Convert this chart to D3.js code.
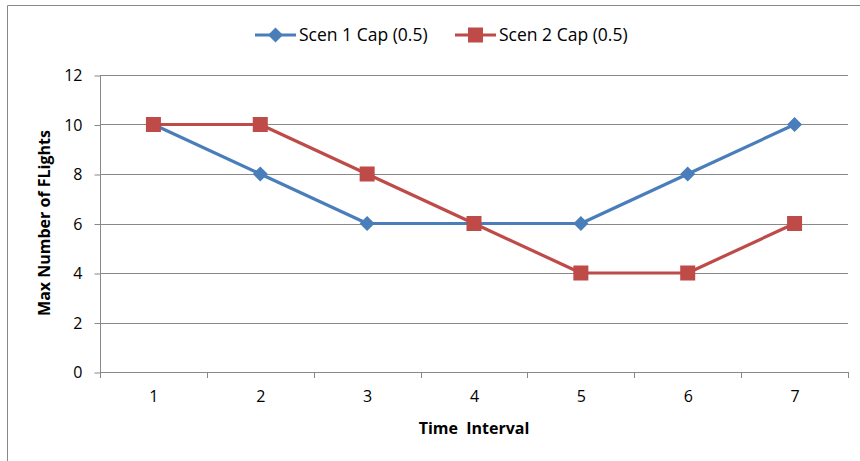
<!DOCTYPE html>
<html><head><meta charset="utf-8">
<script src="https://cdn.jsdelivr.net/npm/d3@7"></script>
<style>body{margin:0;background:#fff}svg{display:block}text{font-family:"Open Sans","Liberation Sans",sans-serif;fill:#000}</style>
</head><body><svg id="c" width="860" height="461"></svg>
<script>
const categories = ["1","2","3","4","5","6","7"];
const scen1 = [10, 8, 6, 6, 6, 8, 10];
const scen2 = [10, 10, 8, 6, 4, 4, 6];
const seriesNames = ["Scen 1 Cap (0.5)", "Scen 2 Cap (0.5)"];
const yTicks = [0, 2, 4, 6, 8, 10, 12];

const svg = d3.select("#c");
const W = 860, H = 461;
const m = {l:100, r:12, t:75, b:89};
const grid = "#888888";
// outer border
svg.append("path").attr("d", `M7.5,${H} V5.5 H${W}`).attr("fill","none").attr("stroke","#888").attr("stroke-width",1);

const x = d3.scaleBand().domain(categories).range([m.l, W - m.r]);
const y = d3.scaleLinear().domain([0, 12]).range([H - m.b, m.t]);

// gridlines
svg.append("g").selectAll("line").data(yTicks.filter(d=>d>0)).join("line")
  .attr("x1", m.l).attr("x2", W - m.r)
  .attr("y1", d => Math.round(y(d)) + 0.5).attr("y2", d => Math.round(y(d)) + 0.5)
  .attr("stroke", grid).attr("stroke-width", 1);

// y axis
const ya = svg.append("g").attr("transform", `translate(${m.l + 0.5},0.5)`)
  .call(d3.axisLeft(y).tickValues(yTicks).tickSize(6).tickPadding(12).tickFormat(d3.format("d")));
ya.selectAll("path,line").attr("stroke", grid);
ya.select(".domain").attr("d", `M0,${y(12)}V${y(0)}`);
ya.selectAll("text").attr("font-size", 16).attr("font-family", '"Open Sans",sans-serif');

// x axis
const xa = svg.append("g").attr("transform", `translate(0.5,${Math.round(y(0)) + 0.5})`)
  .call(d3.axisBottom(x).tickSize(0).tickPadding(18));
xa.select(".domain").attr("stroke", grid).attr("d", `M${m.l},0H${W - m.r}`);
xa.selectAll("text").attr("font-size", 16).attr("font-family", '"Open Sans",sans-serif');
// category boundary ticks
const bounds = categories.map(c => x(c)).concat([x(categories[categories.length-1]) + x.bandwidth()]);
svg.append("g").selectAll("line").data(bounds).join("line")
  .attr("x1", d => Math.round(d) + 0.5).attr("x2", d => Math.round(d) + 0.5)
  .attr("y1", Math.round(y(0))).attr("y2", Math.round(y(0)) + 6)
  .attr("stroke", grid);

const cx = c => x(c) + x.bandwidth() / 2;
const line = d3.line().x((d,i) => cx(categories[i])).y(d => y(d));
const colors = ["#4A7EBB", "#BE4B48"];

function drawSeries(vals, color, shape) {
  svg.append("path").datum(vals).attr("d", line).attr("fill","none")
    .attr("stroke", color).attr("stroke-width", 3.2).attr("stroke-linejoin","round");
  const g = svg.append("g");
  vals.forEach((v,i) => drawMarker(g, cx(categories[i]), y(v), color, shape));
}
function drawMarker(g, px, py, color, shape) {
  if (shape === "diamond") {
    g.append("path").attr("d", `M${px},${py-7.5}L${px+7.5},${py}L${px},${py+7.5}L${px-7.5},${py}Z`).attr("fill", color);
  } else {
    g.append("rect").attr("x", px-7.5).attr("y", py-7.5).attr("width",15).attr("height",15).attr("fill", color);
  }
}
drawSeries(scen1, colors[0], "diamond");
drawSeries(scen2, colors[1], "square");

// legend
const leg = [{x0:255, name:seriesNames[0], c:colors[0], s:"diamond"},{x0:455, name:seriesNames[1], c:colors[1], s:"square"}];
leg.forEach(L => {
  svg.append("line").attr("x1", L.x0).attr("x2", L.x0+41).attr("y1",35).attr("y2",35).attr("stroke",L.c).attr("stroke-width",3.2);
  drawMarker(svg, L.x0+20.5, 35, L.c, L.s);
  svg.append("text").attr("x", L.x0+44).attr("y", 35).attr("dy","0.35em").attr("font-size",17.5).text(L.name);
});

// axis titles
svg.append("text").attr("x", 474).attr("y", 434).attr("text-anchor","middle").attr("font-weight","bold").attr("font-size",16)
  .attr("xml:space","preserve").style("white-space","pre").text("Time  Interval");
svg.append("text").attr("transform", "translate(50,223) rotate(-90)").attr("text-anchor","middle").attr("font-weight","bold").attr("font-size",16)
  .text("Max Number of FLights");
</script></body></html>
